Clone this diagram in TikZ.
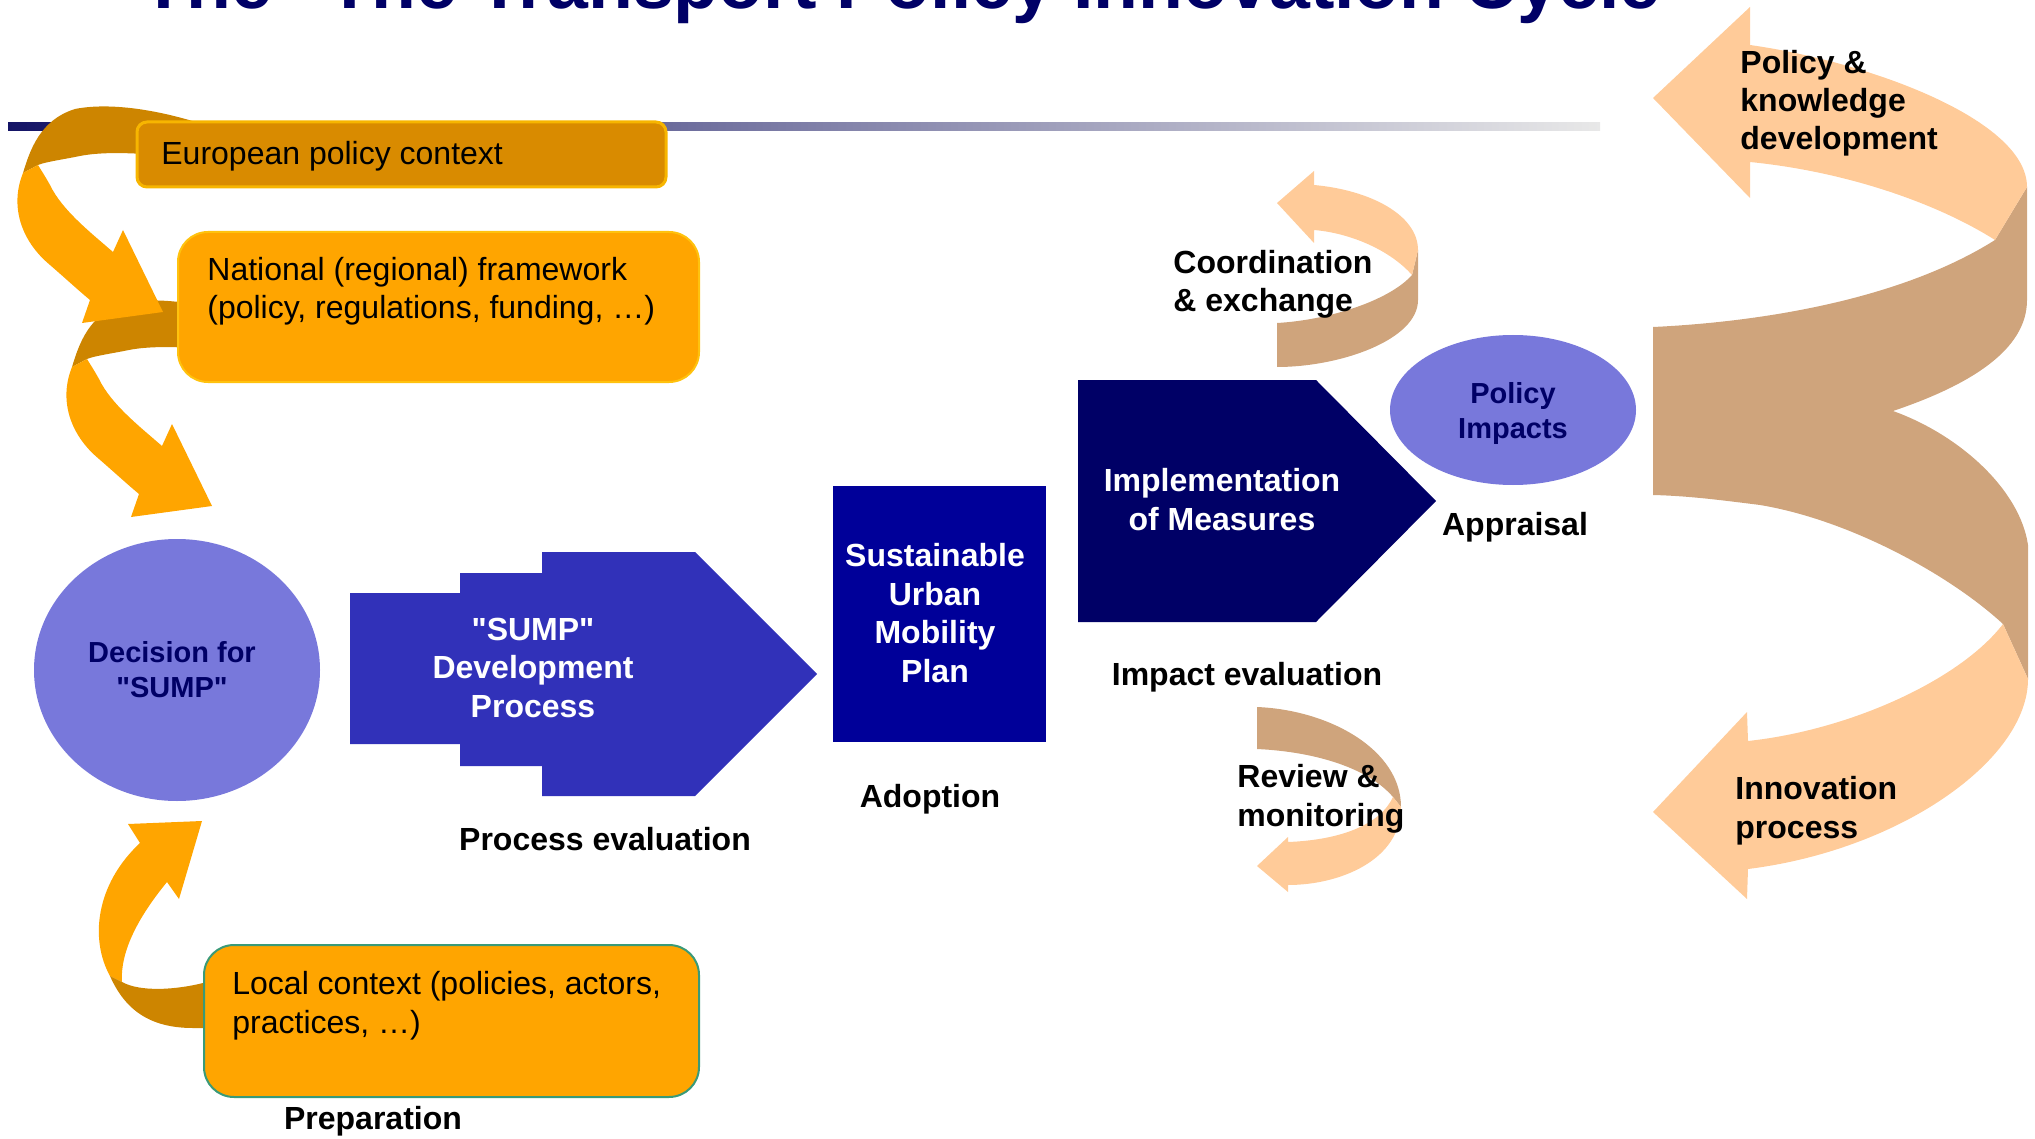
\documentclass[tikz,border=0pt]{standalone}
\usepackage{fontspec}
\setmainfont{Liberation Sans}
\newfontfamily\plainsans{Liberation Sans}
\usetikzlibrary{fit,shapes.geometric}
\definecolor{navy}{HTML}{000066}
\definecolor{planblue}{HTML}{000099}
\definecolor{devblue}{HTML}{3131B9}
\definecolor{lavender}{HTML}{7878DB}
\definecolor{orangeL}{HTML}{FFA500}
\definecolor{orangeD}{HTML}{CD8500}
\definecolor{euroFill}{HTML}{D98B00}
\definecolor{euroLine}{HTML}{F7B500}
\definecolor{natLine}{HTML}{FFC20E}
\definecolor{localLine}{HTML}{3A9A78}
\definecolor{peach}{HTML}{FFCB99}
\definecolor{tanband}{HTML}{CFA47C}
\definecolor{lineNavy}{HTML}{141466}
\definecolor{lineMid}{HTML}{A8A8BE}
\definecolor{lineEnd}{HTML}{E8E8E8}
\newcommand\dq{{\plainsans\char34}}
\tikzset{
  bigtxt/.style={font=\fontsize{16}{19.2}\selectfont, inner sep=0pt, align=left, anchor=base west},
  boldl/.style={font=\fontsize{16}{19.2}\selectfont\bfseries, inner sep=0pt, align=left, anchor=base west},
  boldc/.style={font=\fontsize{16}{19.2}\selectfont\bfseries, inner sep=0pt, align=center, anchor=base},
  ovaltxt/.style={font=\fontsize{14.5}{17.5}\selectfont\bfseries, inner sep=0pt, align=center, anchor=base, text=navy},
  whitetxt/.style={boldc, text=white},
  ctxbox/.style={inner sep=0pt, rounded corners=15pt, fill=orangeL, line width=1pt},
  oval/.style={ellipse, fill=lavender, inner sep=0pt},
}
\newcommand\leftcurl{%
  \fill[orangeD] (23,173) .. controls (30,150) and (40,120) .. (75,109)
    .. controls (110,102) and (160,110) .. (205,125) -- (205,161)
    .. controls (160,154) and (110,150) .. (80,156)
    .. controls (60,160) and (45,162) .. (38,165) -- cycle;
  \fill[orangeL] (23,173) .. controls (10,205) and (20,240) .. (50,265)
    .. controls (65,278) and (78,290) .. (90,300) -- (82,323) -- (163,312)
    -- (123,230) -- (113,252) .. controls (90,232) and (62,210) .. (50,185)
    .. controls (45,176) and (41,170) .. (38,165) -- cycle;
}
\begin{document}
\begin{tikzpicture}[x=0.5pt,y=-0.5pt]
\useasboundingbox (0,0) rectangle (2035,1139);
\clip (0,0) rectangle (2035,1139);
% title (cut off at the top, as in the original slide)
\node[anchor=base west, inner sep=0pt, font=\fontsize{36.7}{40}\selectfont\bfseries, text=navy] (title) at (141,9) {The \dq The Transport Policy Innovation Cycle\dq};
% rule
\shade[left color=lineNavy, middle color=lineMid, right color=lineEnd] (8,123) rectangle (1600,131);
% left curled arrows
\begin{scope}[shift={(49,194)}]\leftcurl\end{scope}
\leftcurl
% context boxes
\node[inner sep=0pt, rounded corners=5pt, fill=euroFill, draw=euroLine, line width=1.5pt, fit={(137,122) (666,187)}] (euro) {};
\node[ctxbox, draw=natLine, fit={(178,232) (699,382)}] (national) {};
\node[bigtxt] (eurotxt) at (161,165) {European policy context};
\node[bigtxt] (nattxt) at (207,319) {National (regional) framework\\(policy, regulations, funding, …)};
% bottom curled arrow
\fill[orangeL] (110,976) .. controls (90,940) and (95,885) .. (140,843) -- (128,824) -- (202,821)
  -- (179,899) -- (167,882) .. controls (140,915) and (120,950) .. (122,982) -- cycle;
\fill[orangeD] (110,976) .. controls (125,1010) and (150,1028) .. (193,1028) -- (215,1028)
  -- (215,983) -- (203,983) .. controls (175,990) and (140,992) .. (122,982) -- cycle;
\node[ctxbox, draw=localLine, fit={(204,945) (699,1097)}] (local) {};
\node[bigtxt] (localtxt) at (232,1033) {Local context (policies, actors,\\practices, …)};
\node[boldc] (prep) at (373,1129) {Preparation};
% decision
\node[oval, minimum width=143pt, minimum height=131pt] (decision) at (177,670) {};
\node[ovaltxt] (dectxt) at (172,697) {Decision for\\\dq SUMP\dq};
% SUMP development process
\fill[devblue] (350,593) -- (460,593) -- (460,573) -- (542,573) -- (542,552) -- (695,552)
  -- (817,674) -- (695,796) -- (542,796) -- (542,766) -- (460,766) -- (460,744) -- (350,744) -- cycle;
\node[whitetxt] (devtxt) at (533,717) {\dq SUMP\dq\\Development\\Process};
\node[boldc] (proceval) at (605,850) {Process evaluation};
% plan
\node[inner sep=0pt, fill=planblue, fit={(833,486) (1046,742)}] (plan) {};
\node[whitetxt] (plantxt) at (935,682) {Sustainable\\Urban\\Mobility\\Plan};
\node[boldc] (adoption) at (930,807) {Adoption};
% implementation
\fill[navy] (1078,380) -- (1316,380) -- (1436,501) -- (1316,622) -- (1078,622) -- cycle;
\node[whitetxt] (impltxt) at (1222,530) {Implementation\\of Measures};
\node[boldc] (impacteval) at (1247,685) {Impact evaluation};
% policy impacts
\node[oval, minimum width=123pt, minimum height=75pt] (impacts) at (1513,410) {};
\node[ovaltxt] (imptxt) at (1513,438) {Policy\\Impacts};
\node[boldc] (appraisal) at (1515,535) {Appraisal};
% coordination & exchange arrow
\fill[tanband] (1277,323) .. controls (1330,320) and (1390,300) .. (1412,275) -- (1418,250)
  -- (1418,300) .. controls (1418,340) and (1340,367) .. (1277,367) -- cycle;
\fill[peach] (1314,185) .. controls (1370,190) and (1418,215) .. (1418,250) -- (1412,275)
  .. controls (1390,250) and (1350,233) .. (1314,230) -- (1314,243) -- (1277,203) -- (1314,171) -- cycle;
\node[boldl] (coordtxt) at (1173,312) {Coordination\\\& exchange};
% review & monitoring arrow
\fill[tanband] (1257,707) .. controls (1330,710) and (1401,750) .. (1401,807) -- (1393,797)
  .. controls (1370,770) and (1320,752) .. (1257,749) -- cycle;
\fill[peach] (1401,807) .. controls (1401,860) and (1340,885) .. (1288,885) -- (1288,892)
  -- (1257,866) -- (1288,837) -- (1288,842) .. controls (1340,840) and (1380,825) .. (1393,797) -- cycle;
\node[boldl] (reviewtxt) at (1237,826) {Review \&\\monitoring};
% big spiral arrow on the right
\fill[tanband] (1653,327) .. controls (1760,322) and (1900,300) .. (1995,240) -- (2027,187)
  -- (2027,300) .. controls (2027,350) and (1970,385) .. (1893,411)
  .. controls (1960,435) and (2020,490) .. (2028,545) -- (2028,679) -- (2003,624)
  .. controls (1950,575) and (1850,520) .. (1760,505) .. controls (1720,500) and (1690,496) .. (1653,495) -- cycle;
\fill[peach] (1750,45) .. controls (1870,62) and (2027,120) .. (2027,187) -- (1995,240)
  .. controls (1940,205) and (1850,172) .. (1750,162) -- (1750,198) -- (1653,98) -- (1750,7) -- cycle;
\fill[peach] (2003,624) -- (2028,679) .. controls (2028,760) and (1900,850) .. (1748,869)
  -- (1747,899) -- (1653,812) -- (1747,712) -- (1748,741)
  .. controls (1850,730) and (1960,680) .. (2003,624) -- cycle;
\node[boldl] (knowtxt) at (1740,150) {Policy \&\\knowledge\\development};
\node[boldl] (innotxt) at (1735,838) {Innovation\\process};
\end{tikzpicture}
\end{document}
